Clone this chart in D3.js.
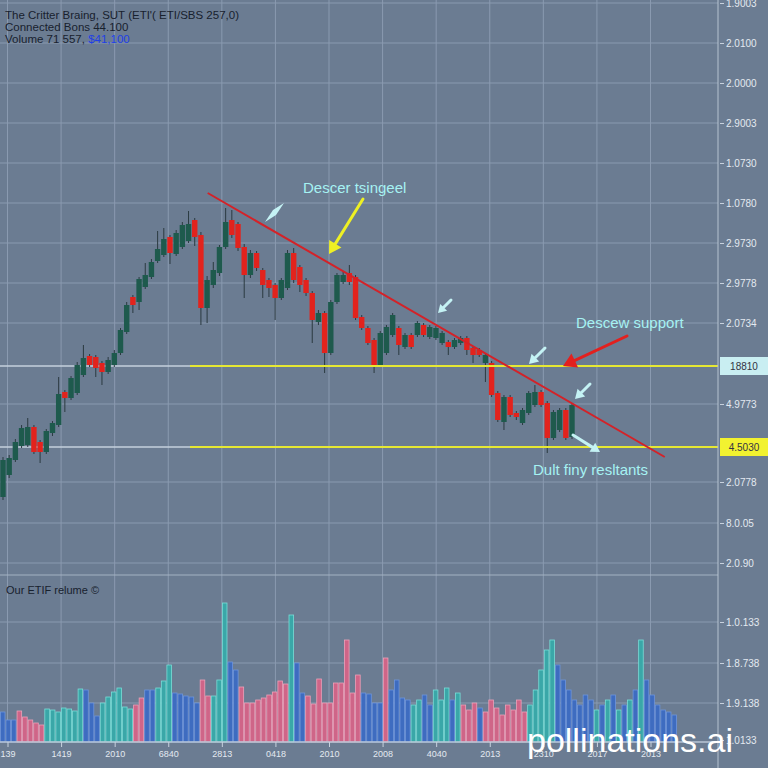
<!DOCTYPE html>
<html><head><meta charset="utf-8">
<script src="https://cdn.jsdelivr.net/npm/d3@7"></script>
<style>html,body{margin:0;padding:0;background:#6b7c92;overflow:hidden}</style>
</head><body><svg id="c" width="768" height="768"></svg>
<script>
// ---- candle data (price units) ----
const open  = [103,125,140,154,155,173,158,148,167,175,208,202,207,225,244,243,237,228,235,247,268,303,298,313,323,339,345,363,346,353,359,380,365,292,315,327,353,380,376,353,325,347,330,320,315,302,312,347,333,320,307,278,287,247,298,318,327,323,283,272,260,235,247,265,272,253,265,265,275,263,262,257,258,253,257,262,252,250,237,237,207,178,203,187,177,187,195,208,197,162,170,190,163];
const high  = [143,145,161,175,182,175,160,171,179,223,210,224,238,255,246,245,239,243,250,272,298,305,323,337,341,369,372,365,370,378,389,382,368,324,338,355,392,390,378,356,350,349,332,322,317,322,350,352,335,322,309,290,289,300,327,329,335,325,285,274,262,269,275,287,274,267,267,279,277,275,274,269,260,262,264,264,254,252,247,239,209,205,205,189,192,209,215,210,199,190,192,192,197];
const low   = [100,122,138,152,153,146,137,146,164,173,188,200,205,223,233,223,215,226,233,245,266,287,290,311,321,337,343,336,344,351,357,354,275,277,312,324,351,362,349,302,322,329,302,303,280,300,310,317,308,304,257,275,227,245,296,316,315,280,270,255,227,233,245,263,245,251,251,263,263,261,260,255,245,251,255,245,237,243,218,203,178,170,183,180,175,185,193,193,147,160,168,160,161];
const close = [140,142,158,172,173,148,148,169,177,206,202,222,235,242,235,232,228,240,247,270,295,295,321,325,338,351,361,347,367,375,376,363,292,320,330,353,378,365,352,325,347,332,315,312,302,320,347,320,315,307,280,287,247,298,325,325,318,282,272,257,235,267,273,285,255,265,253,277,265,273,272,267,253,260,262,250,245,245,245,205,180,203,185,183,190,207,208,195,162,188,190,162,195];

// ---- volume data ----
const volume = [30,22,22,31,25,22,19,17,33,32,30,34,33,31,53,52,39,26,39,45,50,54,35,33,37,44,52,52,54,61,77,49,48,46,45,39,62,46,46,62,139,80,72,55,39,39,42,44,47,50,61,58,127,79,49,46,38,63,39,39,59,59,102,49,67,49,48,39,39,84,52,62,44,42,37,42,47,37,52,42,54,42,49,37,32,39,34,30,42,34,27,37,32,42,30,37,52,72,92,102,77,62,52,42,37,47,42,32,37,42,47,32,37,42,52,102,62,47,37,32,30,27];
const volColor = ("bbbppppptt"+"tttttbbbtt"+"ttttppbbtt"+"tbbbbbpptt"+"tbbppppppp"+"pptbbppppp"+"pppppbbbbp"+"bbbbttbbtt"+"tbtpppbppp"+"pppppttttt"+"bbbbbbbtbt"+"btbtbtbbbbbb").split("");

// ---- axes labels ----
const dateLabels = ["139","1419","2010","6840","2813","0418","2010","2008","4040","2013","2310","2017","2013"];
const priceTicks = [597,557,517,477,437,397,357,317,277,196,118,77,37];
const priceTickLabels = ["1.9003","2.0100","2.0000","2.9003","1.0730","1.0780","2.9730","2.9778","2.0734","4.9773","2.0778","8.0.05","2.0.90"];
const volTicks = [120,79,39,2];
const volTickLabels = ["1.0.133","1.8.738","1.9.138","1.0133"];
const levels = [234,153];
const levelLabels = ["18810","4.5030"];
const trend = [{i:33.1,p:407},{i:107,p:143}];

const W=768,H=768,axisX=718;
const svg=d3.select('#c');
const font='"Liberation Sans", Arial, sans-serif';
svg.append('rect').attr('width',W).attr('height',H).attr('fill','#6b7c92');

const xC=d3.scaleLinear().domain([0,open.length-1]).range([3,572]);
const yP=d3.scaleLinear().domain([0,600]).range([600,0]);
const xD=d3.scalePoint().domain(dateLabels.map((d,i)=>i)).range([7.5,650.5]);
const xV=d3.scaleLinear().domain([0,volume.length-1]).range([2.7,2.7+5.55*(volume.length-1)]);
const yV=d3.scaleLinear().domain([0,160]).range([742,582]);

const grid=svg.append('g').attr('stroke','#8a9ab0').attr('stroke-width',1);
dateLabels.forEach((d,i)=>grid.append('line').attr('x1',xD(i)).attr('x2',xD(i)).attr('y1',0).attr('y2',742));
priceTicks.forEach(p=>grid.append('line').attr('x1',0).attr('x2',axisX).attr('y1',yP(p)).attr('y2',yP(p)));
volTicks.slice(0,3).forEach(v=>grid.append('line').attr('x1',0).attr('x2',axisX).attr('y1',yV(v)).attr('y2',yV(v)));
levels.forEach(l=>svg.append('line').attr('x1',0).attr('x2',190).attr('y1',yP(l)).attr('y2',yP(l)).attr('stroke','#c5d0dc').attr('stroke-width',1.5));
svg.append('line').attr('x1',0).attr('x2',axisX).attr('y1',575).attr('y2',575).attr('stroke','#a3b1c2').attr('stroke-width',1.2);

// candles
const cg=svg.append('g');
open.forEach((o,i)=>{
  const up=close[i]>=o;
  cg.append('line').attr('x1',xC(i)).attr('x2',xC(i)).attr('y1',yP(high[i])).attr('y2',yP(low[i])).attr('stroke','#2b3a40').attr('stroke-width',1);
  const t=yP(Math.max(o,close[i])), b=yP(Math.min(o,close[i]));
  cg.append('rect').attr('x',xC(i)-2.7).attr('width',5.4).attr('y',t).attr('height',Math.max(1.5,b-t))
    .attr('fill',up?'#1e5a4d':'#e2231d');
});

levels.forEach(l=>svg.append('line').attr('x1',190).attr('x2',axisX).attr('y1',yP(l)).attr('y2',yP(l)).attr('stroke','#e6e833').attr('stroke-width',2));
svg.append('line').attr('x1',xC(trend[0].i)).attr('y1',yP(trend[0].p)).attr('x2',xC(trend[1].i)).attr('y2',yP(trend[1].p))
  .attr('stroke','#d42228').attr('stroke-width',2);

// volume bars
const vc={b:['#3e6cc0','#6d95dc'],t:['#3aa7a8','#79dcd6'],p:['#cf6588','#eea0b8']};
const vg=svg.append('g');
volume.forEach((v,i)=>{
  const c=vc[volColor[i]]||vc.b;
  vg.append('rect').attr('x',xV(i)-2.3).attr('width',4.6).attr('y',yV(v)).attr('height',yV(0)-yV(v))
    .attr('fill',c[0]).attr('stroke',c[1]).attr('stroke-width',0.8);
});
svg.append('line').attr('x1',0).attr('x2',axisX).attr('y1',742).attr('y2',742).attr('stroke','#b8c6d6').attr('stroke-width',1.5);

// right axis
svg.append('line').attr('x1',axisX).attr('x2',axisX).attr('y1',0).attr('y2',H).attr('stroke','#b6c2d0').attr('stroke-width',1);
const ra=svg.append('g').attr('transform',`translate(${axisX+2},0)`)
  .call(d3.axisRight(yP).tickValues(priceTicks).tickFormat((d,i)=>priceTickLabels[i]).tickSize(4).tickPadding(2));
const va=svg.append('g').attr('transform',`translate(${axisX+2},0)`)
  .call(d3.axisRight(yV).tickValues(volTicks).tickFormat((d,i)=>volTickLabels[i]).tickSize(4).tickPadding(2));
[ra,va].forEach(g=>{g.select('.domain').remove();g.selectAll('line').attr('stroke','#c8d2de');
  g.selectAll('text').attr('fill','#e3e9f0').attr('font-size',10).attr('font-family',font);});
const boxFill=['#c9eef2','#f2f230'];
levels.forEach((l,k)=>{
  svg.append('rect').attr('x',720).attr('y',yP(l)-9).attr('width',48).attr('height',18).attr('fill',boxFill[k]);
  svg.append('text').attr('x',744).attr('y',yP(l)+4).attr('text-anchor','middle').attr('font-size',10)
    .attr('font-family',font).attr('fill','#334').text(levelLabels[k]);
});

// bottom axis
const ba=svg.append('g').attr('transform','translate(0,742)')
  .call(d3.axisBottom(xD).tickFormat(i=>dateLabels[i]).tickSize(5).tickPadding(4));
ba.select('.domain').remove();
ba.selectAll('line').attr('stroke','#c8d2de');
ba.selectAll('text').attr('fill','#e3e9f0').attr('font-size',9).attr('font-family',font);

// header
const hd=svg.append('g').attr('font-family',font).attr('font-size',11.5).attr('fill','#18212e');
hd.append('text').attr('x',5).attr('y',19).text("The Critter Braing, SUT (ETI'( ETI/SBS 257,0)");
hd.append('text').attr('x',5).attr('y',31).text("Connected Bons 44.100");
const l3=hd.append('text').attr('x',5).attr('y',43);
l3.append('tspan').text("Volume 71 557, ");
l3.append('tspan').attr('fill','#1f3fe6').text("$41,100");
svg.append('text').attr('x',6).attr('y',594).attr('font-family',font).attr('font-size',11).attr('fill','#18212e').text("Our ETIF relume ©");

// annotations
const ann=svg.append('g').attr('font-family',font).attr('font-size',15).attr('fill','#a6f2f2');
ann.append('text').attr('x',303).attr('y',193).text("Descer tsingeel");
ann.append('text').attr('x',576).attr('y',328).text("Descew support");
ann.append('text').attr('x',533).attr('y',475).text("Dult finy resltants");

function arrow(x1,y1,x2,y2,color,w,hs){
  const a=Math.atan2(y2-y1,x2-x1);
  svg.append('line').attr('x1',x1).attr('y1',y1).attr('x2',x2-Math.cos(a)*hs*0.7).attr('y2',y2-Math.sin(a)*hs*0.7)
    .attr('stroke',color).attr('stroke-width',w).attr('stroke-linecap','round');
  const p=[[x2,y2],[x2-hs*Math.cos(a)+hs*0.6*Math.sin(a),y2-hs*Math.sin(a)-hs*0.6*Math.cos(a)],
           [x2-hs*Math.cos(a)-hs*0.6*Math.sin(a),y2-hs*Math.sin(a)+hs*0.6*Math.cos(a)]];
  svg.append('path').attr('d',d3.line()(p)+'Z').attr('fill',color);
}
arrow(363,199,329,254,'#eef024',3,12);
arrow(627,336,563,366,'#e3201e',3,13);
const cy='#c4f2f4';
svg.append('path').attr('d','M265,222 L273,210 L284,203 L276,215 Z').attr('fill',cy);
arrow(451,300,438,313,cy,3,8);
arrow(545,348,529,364,cy,3,9);
arrow(590,384,575,399,cy,3,9);
arrow(573,435,600,452,cy,3,9);

// watermark
svg.append('text').attr('x',527).attr('y',752).attr('font-family',font).attr('font-size',34).attr('fill','#ffffff').text("pollinations.ai");
</script></body></html>
